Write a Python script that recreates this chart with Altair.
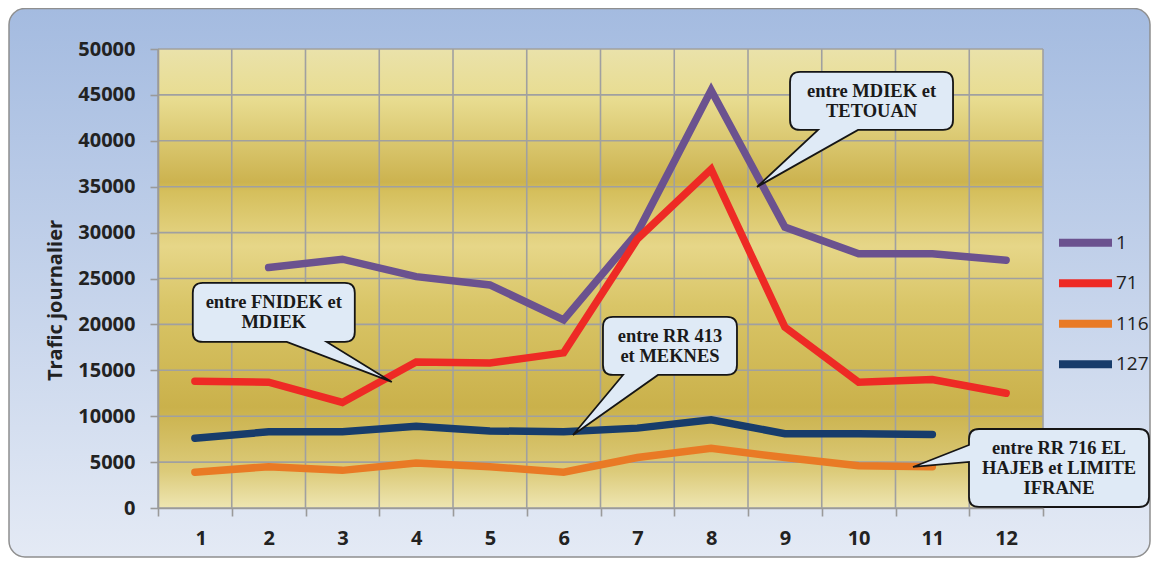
import altair as alt
import pandas as pd

# ---------------- data ----------------
months = list(range(1, 13))
route_1 = [None, 26200, 27100, 25200, 24300, 20500, 30000, 45500, 30600, 27700, 27700, 27000]
route_71 = [13800, 13700, 11500, 15900, 15800, 16900, 29300, 36900, 19700, 13700, 14000, 12500]
route_116 = [3900, 4500, 4100, 4900, 4500, 3900, 5500, 6500, 5500, 4600, 4500, None]
route_127 = [7600, 8300, 8300, 8900, 8400, 8300, 8700, 9600, 8100, 8100, 8000, None]
series_names = ["1", "71", "116", "127"]
series_colors = ["#6b528f", "#ee2a25", "#e97a25", "#173c6b"]
y_ticks = list(range(0, 50001, 5000))
x_bounds = [m - 0.5 for m in months] + [12.5]

callout_texts = [
    "entre FNIDEK et\nMDIEK",
    "entre MDIEK et\nTETOUAN",
    "entre RR 413\net MEKNES",
    "entre RR 716 EL\nHAJEB et LIMITE\nIFRANE",
]
callout_x = [2.07, 10.175, 7.442, 12.717]
callout_y = [21300, 44340, 17650, 4360]

# ---------------- helpers ----------------
R = 100.0  # symbol unit in px (size = (2R)^2)


def fmt(v):
    return f"{v / R:.4f}"


def balloon_bottom(hw, hh, b1, b2, tx, ty, r=10):
    pts = [
        f"M{fmt(-hw + r)},{fmt(-hh)}",
        f"H{fmt(hw - r)}",
        f"Q{fmt(hw)},{fmt(-hh)} {fmt(hw)},{fmt(-hh + r)}",
        f"V{fmt(hh - r)}",
        f"Q{fmt(hw)},{fmt(hh)} {fmt(hw - r)},{fmt(hh)}",
        f"H{fmt(b2)}",
        f"L{fmt(tx)},{fmt(ty)}",
        f"L{fmt(b1)},{fmt(hh)}",
        f"H{fmt(-hw + r)}",
        f"Q{fmt(-hw)},{fmt(hh)} {fmt(-hw)},{fmt(hh - r)}",
        f"V{fmt(-hh + r)}",
        f"Q{fmt(-hw)},{fmt(-hh)} {fmt(-hw + r)},{fmt(-hh)}",
        "Z",
    ]
    return "".join(pts)


def balloon_left(hw, hh, b1, b2, tx, ty, r=10):
    pts = [
        f"M{fmt(-hw + r)},{fmt(-hh)}",
        f"H{fmt(hw - r)}",
        f"Q{fmt(hw)},{fmt(-hh)} {fmt(hw)},{fmt(-hh + r)}",
        f"V{fmt(hh - r)}",
        f"Q{fmt(hw)},{fmt(hh)} {fmt(hw - r)},{fmt(hh)}",
        f"H{fmt(-hw + r)}",
        f"Q{fmt(-hw)},{fmt(hh)} {fmt(-hw)},{fmt(hh - r)}",
        f"V{fmt(b2)}",
        f"L{fmt(tx)},{fmt(ty)}",
        f"L{fmt(-hw)},{fmt(b1)}",
        f"V{fmt(-hh + r)}",
        f"Q{fmt(-hw)},{fmt(-hh)} {fmt(-hw + r)},{fmt(-hh)}",
        "Z",
    ]
    return "".join(pts)


callout_shapes = [
    balloon_bottom(81, 29.5, 13, 53, 118, 69.5),
    balloon_bottom(81.5, 29, -53.5, -13.5, -114.5, 86),
    balloon_bottom(67, 29, -47, -12, -97, 89),
    balloon_left(90, 39, -23, -6, -146, -1),
]

rows = []
for name, vals in zip(series_names, [route_1, route_71, route_116, route_127]):
    for m, v in zip(months, vals):
        if v is not None:
            rows.append({"mois": m, "trafic": v, "route": name})
df = pd.DataFrame(rows)

callouts = pd.DataFrame({
    "x": callout_x, "y": callout_y, "txt": callout_texts, "shape": callout_shapes,
    "nl": [t.count("\n") + 1 for t in callout_texts],
})
one = pd.DataFrame({"a": [0]})

x_scale = alt.Scale(domain=[0.5, 12.5], nice=False, zero=False)
y_scale = alt.Scale(domain=[0, 50000], nice=False, zero=True)

x_axis = alt.Axis(values=x_bounds, grid=False, tickSize=8, tickColor="#9a9a9a", tickWidth=1.6,
                  domainColor="#9a9a9a", domainWidth=1.6,
                  labelExpr="datum.value < 12 ? '' + (datum.value + 0.5) : ''",
                  labelOffset=36.875, labelPadding=12, labelFont="Open Sans", labelFontWeight="bold",
                  labelFontSize=20, labelColor="#222222", zindex=1)
y_axis = alt.Axis(values=y_ticks, grid=False, format="d", tickSize=8, tickColor="#9a9a9a", tickWidth=1.6,
                  domainColor="#9a9a9a", domainWidth=1.6, labelPadding=15,
                  labelFont="Open Sans", labelFontWeight="bold", labelFontSize=20, labelColor="#222222",
                  titleFont="Open Sans", titleFontWeight="bold", titleFontSize=20, titleColor="#222222",
                  titleAngle=270, titleX=-97, titleY=251, titleAlign="center", titleBaseline="alphabetic",
                  zindex=1)
Y_TITLE = "Trafic journalier"

frame_grad = alt.LinearGradient(
    gradient="linear", x1=0, y1=0, x2=0, y2=1,
    stops=[alt.GradientStop(offset=0, color="#a4bbe0"),
           alt.GradientStop(offset=1, color="#e4eaf5")],
)
plot_grad = alt.LinearGradient(
    gradient="linear", x1=0, y1=0, x2=0, y2=1,
    stops=[alt.GradientStop(offset=0, color="#eae2aa"),
           alt.GradientStop(offset=0.11, color="#e8dc90"),
           alt.GradientStop(offset=0.29, color="#ccb34f"),
           alt.GradientStop(offset=0.31, color="#d5bf5c"),
           alt.GradientStop(offset=0.43, color="#e6d688"),
           alt.GradientStop(offset=0.56, color="#d9c567"),
           alt.GradientStop(offset=0.78, color="#cab14b"),
           alt.GradientStop(offset=0.92, color="#dccb7a"),
           alt.GradientStop(offset=1, color="#eee6b2")],
)

frame = alt.Chart(one).mark_rect(
    color=frame_grad, cornerRadius=16, stroke="#8f8f8f", strokeWidth=1.5
).encode(x=alt.value(-149), x2=alt.value(992), y=alt.value(-40.5), y2=alt.value(508))

plot_bg = alt.Chart(one).mark_rect(color=plot_grad).encode(
    x=alt.value(0), x2=alt.value("width"), y=alt.value(0), y2=alt.value("height")
)

vgrid = alt.Chart(pd.DataFrame({"b": x_bounds})).mark_rule(color="#a0a0a0", strokeWidth=1.6).encode(
    x=alt.X("b:Q", scale=x_scale, axis=x_axis, title=None), y=alt.value(0), y2=alt.value("height")
)
hgrid = alt.Chart(pd.DataFrame({"t": y_ticks})).mark_rule(color="#a0a0a0", strokeWidth=1.6).encode(
    y=alt.Y("t:Q", scale=y_scale, axis=y_axis, title=Y_TITLE), x=alt.value(0), x2=alt.value("width")
)

lines = alt.Chart(df).mark_line(strokeWidth=7.5, strokeCap="round", strokeJoin="miter").encode(
    x=alt.X("mois:Q", scale=x_scale, axis=x_axis, title=None),
    y=alt.Y("trafic:Q", scale=y_scale, axis=y_axis, title=Y_TITLE),
    color=alt.Color(
        "route:N", scale=alt.Scale(domain=series_names, range=series_colors),
        legend=alt.Legend(title=None, orient="none", legendX=897, legendY=183.7, symbolType="stroke",
                          symbolSize=2809, symbolStrokeWidth=8, clipHeight=20, rowPadding=20.5,
                          labelOffset=0, labelFont="Open Sans", labelFontSize=19, labelColor="#222222",
                          padding=0),
    ),
    order=alt.Order("mois:Q"),
)

balloons = alt.Chart(callouts).mark_point(
    size=(2 * R) ** 2, filled=True, fill="#dfeaf6", stroke="#151515", strokeWidth=1.8, opacity=1
).encode(
    x=alt.X("x:Q", scale=x_scale, axis=x_axis, title=None),
    y=alt.Y("y:Q", scale=y_scale, axis=y_axis, title=Y_TITLE),
    shape=alt.Shape("shape:N", scale=None, legend=None),
)


def text_layer(nlines):
    return alt.Chart(callouts).transform_filter(alt.datum.nl == nlines).mark_text(
        font="Liberation Serif", fontWeight="bold", fontSize=18.5, lineBreak="\n", lineHeight=20,
        align="center", baseline="middle", color="#1a1a1a", dy=-(nlines - 1) * 10
    ).encode(
        x=alt.X("x:Q", scale=x_scale, axis=x_axis, title=None),
        y=alt.Y("y:Q", scale=y_scale, axis=y_axis, title=Y_TITLE),
        text="txt:N",
    )


chart = alt.layer(frame, plot_bg, vgrid, hgrid, lines, balloons, text_layer(2), text_layer(3)).properties(
    width=885, height=459,
    padding={"left": 150, "top": 41, "right": 108, "bottom": 50},
    autosize=alt.AutoSizeParams(type="none"),
).configure_view(stroke=None)

chart.save("out.html", embed_options={"renderer": "svg", "actions": False})
